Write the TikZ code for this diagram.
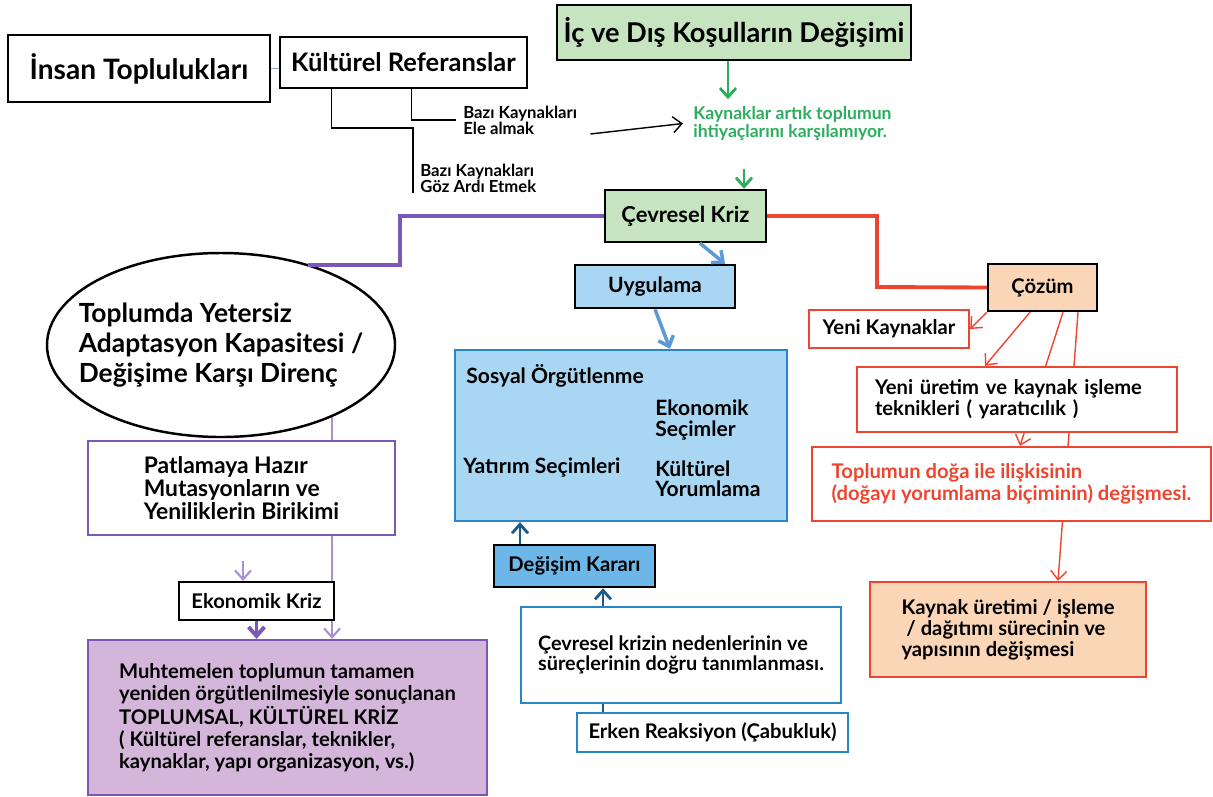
\documentclass[tikz,border=0pt]{standalone}
\usepackage{fontspec}
\setmainfont{Lato}
\usetikzlibrary{arrows.meta,shapes.geometric}
\pgfdeclarelayer{background}
\pgfsetlayers{background,main}
\definecolor{acikyesil}{HTML}{C6E4C0}
\definecolor{yesil}{HTML}{2BAE5C}
\definecolor{mor}{HTML}{7B57B8}
\definecolor{acikmor}{HTML}{A890D2}
\definecolor{lavanta}{HTML}{D3B6DA}
\definecolor{acikmavi}{HTML}{A9D6F2}
\definecolor{ortamavi}{HTML}{6CB7E8}
\definecolor{mavi}{HTML}{2A85C6}
\definecolor{cizgimavi}{HTML}{5A9BD6}
\definecolor{koyumavi}{HTML}{1D5A8A}
\definecolor{kirmizi}{HTML}{EE4530}
\definecolor{seftali}{HTML}{FBD6B6}
\definecolor{gri}{HTML}{8FA6C4}

\begin{document}
\begin{tikzpicture}[x=0.2mm,y=-0.2mm,
	kara/.style={draw,line width=1.4pt,inner sep=0pt,align=left,font=\bfseries\fontsize{11.5}{12.5}\selectfont},
	morkutu/.style={kara,draw=mor,fill=white,line width=1.3pt},
	mavikutu/.style={kara,draw=mavi,line width=1.3pt},
	kirmizikutu/.style={kara,draw=kirmizi,fill=white,line width=1.3pt},
	duzyazi/.style={inner sep=0pt,align=left,font=\bfseries\fontsize{12}{11.5}\selectfont},
	kucukyazi/.style={inner sep=0pt,align=left,font=\bfseries\fontsize{9.5}{9.2}\selectfont},
	oklu/.style={-{Straight Barb[length=1.8mm,width=3.2mm]}}]
	\useasboundingbox (0,0) rectangle (1213,796);
	\node[kara,minimum width=52.4mm,minimum height=13.4mm,font=\bfseries\fontsize{16}{19}\selectfont] (insan) at (139,68.5) {İnsan Toplulukları};
	\node[kara,minimum width=49.4mm,minimum height=10.2mm,font=\bfseries\fontsize{14.5}{17}\selectfont] (kultur) at (403.5,62.5) {Kültürel Referanslar};
	\node[kara,fill=acikyesil,minimum width=70.8mm,minimum height=11mm,font=\bfseries\fontsize{15.5}{18}\selectfont] (kosul) at (734,32.5) {İç ve Dış Koşulların Değişimi};
	\node[kucukyazi,anchor=west] (ele) at (463,120) {Bazı Kaynakları\\Ele almak};
	\node[kucukyazi,anchor=west] (goz) at (420,178) {Bazı Kaynakları\\Göz Ardı Etmek};
	\node[kucukyazi,anchor=west,text=yesil,font=\bfseries\fontsize{10}{9.8}\selectfont] (ihtiyac) at (693,123.5) {Kaynaklar artık toplumun\\ihtiyaçlarını karşılamıyor.};
	\node[kara,fill=acikyesil,minimum width=32.2mm,minimum height=10.4mm,font=\bfseries\fontsize{12.5}{14}\selectfont] (cevre) at (685.5,216) {Çevresel Kriz};

	\node[draw,ellipse,line width=1.4pt,minimum width=69.6mm,minimum height=36.8mm,inner xsep=-4.4mm,inner ysep=0pt,align=left,font=\bfseries\fontsize{15}{17}\selectfont] (toplum) at (221,345) {Toplumda Yetersiz\\Adaptasyon Kapasitesi /\\Değişime Karşı Direnç};
	\node[morkutu,minimum width=61.4mm,minimum height=18.8mm,font=\bfseries\fontsize{13}{13}\selectfont] (patlama) at (241.5,488) {Patlamaya Hazır\\Mutasyonların ve\\Yeniliklerin Birikimi};
	\node[kara,fill=white,line width=1.2pt,minimum width=31mm,minimum height=7.6mm] (ekokriz) at (256.5,601) {Ekonomik Kriz};
	\node[morkutu,fill=lavanta,minimum width=79.8mm,minimum height=31mm] (muhtemel) at (287.5,717.5) {Muhtemelen toplumun tamamen\\yeniden örgütlenilmesiyle sonuçlanan\\TOPLUMSAL, KÜLTÜREL KRİZ\\( Kültürel referanslar, teknikler,\\kaynaklar, yapı organizasyon, vs.)};

	\node[kara,fill=acikmavi,minimum width=32mm,minimum height=8.6mm,font=\bfseries\fontsize{12}{14}\selectfont] (uygulama) at (655,286.5) {Uygulama};
	\node[mavikutu,fill=acikmavi,minimum width=66.4mm,minimum height=34.2mm] (secim) at (621,435.5) {};
	\node[duzyazi,anchor=west] (sosyal) at (466,376) {Sosyal Örgütlenme};
	\node[duzyazi,anchor=west] (ekosecim) at (655,420) {Ekonomik\\Seçimler};
	\node[duzyazi,anchor=west] (yatirim) at (463,468) {Yatırım Seçimleri};
	\node[duzyazi,anchor=west] (kulyorum) at (655,479) {Kültürel\\Yorumlama};
	\node[kara,fill=ortamavi,minimum width=32.2mm,minimum height=8.4mm] (karar) at (574.5,566) {Değişim Kararı};
	\node[mavikutu,fill=white,minimum width=64mm,minimum height=19.2mm,font=\bfseries\fontsize{11.3}{11.5}\selectfont] (neden) at (681,655) {Çevresel krizin nedenlerinin ve\\süreçlerinin doğru tanımlanması.};
	\node[mavikutu,fill=white,minimum width=54.2mm,minimum height=7.8mm] (erken) at (712.5,732.5) {Erken Reaksiyon (Çabukluk)};

	\node[kara,fill=seftali,minimum width=21.8mm,minimum height=9.4mm] (cozum) at (1042.5,287.5) {Çözüm};
	\node[kirmizikutu,minimum width=32mm,minimum height=7.6mm] (yenikay) at (889,329) {Yeni Kaynaklar};
	\node[kirmizikutu,text width=56.8mm,inner xsep=3.6mm,minimum height=13mm,font=\bfseries\fontsize{11.5}{12}\selectfont] (uretim) at (1017,399.5) {Yeni üretim ve kaynak işleme\\teknikleri ( yaratıcılık )};
	\node[kirmizikutu,text=kirmizi,minimum width=79.8mm,minimum height=14.8mm] (doga) at (1011.5,484) {Toplumun doğa ile ilişkisinin\\(doğayı yorumlama biçiminin) değişmesi.};
	\node[kirmizikutu,fill=seftali,minimum width=55.2mm,minimum height=19mm,font=\bfseries\fontsize{11.5}{12}\selectfont] (kaynak) at (1008,629.5) {Kaynak üretimi / işleme\\~/ dağıtımı sürecinin ve\\yapısının değişmesi};

	\coordinate (goz kose) at (413,128);
	\coordinate (mor kose) at (400,265);
	\coordinate (kirmizi kose) at (877,287);
	\draw[gri,line width=0.8pt] (insan.east) -- (insan.east -| kultur.west);
	\draw[line width=0.8pt] ([xshift=26.6mm]kultur.south west) |- ([xshift=-1.4mm]ele.west);
	\draw[line width=0.8pt] ([xshift=10.6mm]kultur.south west) |- (goz kose) -- (goz kose |- goz.south);
	\draw[line width=0.8pt,oklu] ([shift={(2.6mm,-2.8mm)}]ele.east) -- ([xshift=-2mm]ihtiyac.west);
	\draw[yesil,line width=1.6pt,oklu] ([xshift=-1.2mm]kosul.south) -- ([xshift=-1.2mm,yshift=-7.6mm]kosul.south);
	\draw[yesil,line width=1.6pt,oklu] ([shift={(11.7mm,4mm)}]cevre.north) -- ([xshift=11.7mm]cevre.north);

	\draw[mor,line width=2.2pt] (cevre.west) -| (mor kose) -- (toplum.43 |- mor kose);
	\begin{pgfonlayer}{background}
		\draw[acikmor,line width=1.2pt,oklu] (toplum.-33) -- (toplum.-33 |- muhtemel.north);
		\draw[kirmizi,line width=0.8pt,oklu] ([xshift=4.1mm]cozum.south) -- ([xshift=1.7mm]doga.north);
		\draw[kirmizi,line width=0.8pt,oklu] ([xshift=7.1mm]cozum.south) -- ([xshift=10mm]kaynak.north);
	\end{pgfonlayer}
	\draw[acikmor,line width=1.2pt,oklu] ([shift={(-2.7mm,4mm)}]ekokriz.north) -- ([xshift=-2.7mm]ekokriz.north);
	\draw[mor,line width=2.2pt,oklu] (ekokriz.south) -- (ekokriz.south |- muhtemel.north);

	\draw[cizgimavi,line width=2pt,oklu] ([xshift=2.9mm]cevre.south) -- ([xshift=14mm]uygulama.north);
	\draw[cizgimavi,line width=2pt,oklu] (uygulama.south) -- ([xshift=9.8mm]secim.north);
	\draw[koyumavi,line width=1.6pt,oklu] ([xshift=-10.9mm]karar.north) -- ([xshift=-10.9mm]karar.north |- secim.south);
	\draw[koyumavi,line width=1.6pt,oklu] ([xshift=-15.6mm]neden.north) -- ([xshift=-15.6mm]neden.north |- karar.south);
	\draw[koyumavi,line width=1.6pt] ([xshift=-15.6mm]neden.south) -- ([xshift=-15.6mm]neden.south |- erken.north);

	\draw[kirmizi,line width=2.2pt] (cevre.east) -| (kirmizi kose) -- (cozum.west);
	\draw[kirmizi,line width=0.8pt,oklu] (cozum.south west) -- (yenikay.east);
	\draw[kirmizi,line width=0.8pt,oklu] ([xshift=-2.5mm]cozum.south) -- ([xshift=-6.4mm]uretim.north);
\end{tikzpicture}
\end{document}
